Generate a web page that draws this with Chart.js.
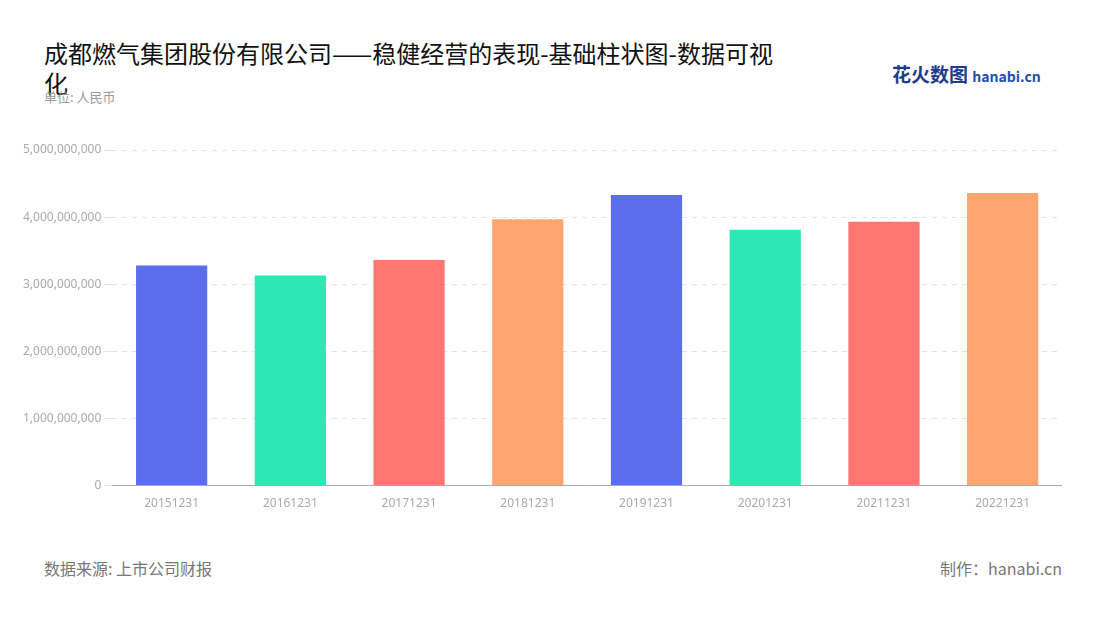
<!DOCTYPE html>
<html><head><meta charset="utf-8">
<script src="https://cdn.jsdelivr.net/npm/chart.js@4/dist/chart.umd.min.js"></script>
<style>
body{margin:0;width:1100px;height:620px;background:#fff;font-family:"Noto Sans CJK SC","Noto Sans",sans-serif;position:relative;overflow:hidden}
#title{position:absolute;left:44px;top:38px;width:740px;font-size:24px;line-height:30px;color:#111}
#unit{position:absolute;left:44px;top:87px;font-size:13px;color:#999}
#logo{position:absolute;left:892px;top:60px;font-size:19px;font-weight:bold;color:#1f3c8c}
#logo span{font-size:14px;color:#2350b0}
#src{position:absolute;left:44px;top:556px;font-size:16px;color:#777}
#made{position:absolute;right:38px;top:556px;font-size:16px;color:#777}
#wrap{position:absolute;left:0;top:138px;width:1062px;height:384px}
</style></head><body>
<div id="title">成都燃气集团股份有限公司——稳健经营的表现-基础柱状图-数据可视化</div>
<div id="unit">单位: 人民币</div>
<div id="logo">花火数图 <span>hanabi.cn</span></div>
<div id="src">数据来源: 上市公司财报</div>
<div id="made">制作：hanabi.cn</div>
<div id="wrap"><canvas id="c"></canvas></div>
<script>
const years = ['20151231','20161231','20171231','20181231','20191231','20201231','20211231','20221231'];
const values = [3280000000,3130000000,3360000000,3970000000,4330000000,3810000000,3930000000,4360000000];
const colors = ['#5B6FEE','#2DE8B4','#FF7770','#FFA571','#5B6FEE','#2DE8B4','#FF7770','#FFA571'];

new Chart(document.getElementById('c'), {
    type: 'bar',
    data: {
        labels: years,
        datasets: [{ data: values, backgroundColor: colors, categoryPercentage: 0.6, barPercentage: 1 }]
    },
    options: {
        responsive: true,
        maintainAspectRatio: false,
        animation: false,
        plugins: { legend: { display: false }, tooltip: { enabled: false } },
        layout: { padding: { top: 12, bottom: 8, left: 20 } },
        scales: {
            x: {
                grid: { display: false },
                border: { color: '#aaa' },
                ticks: { color: '#aaa', font: { size: 12, family: 'Noto Sans' } }
            },
            y: {
                min: 0, max: 5000000000,
                ticks: { stepSize: 1000000000, color: '#aaa', font: { size: 12, family: 'Noto Sans' },
                    callback: v => v.toLocaleString('en-US') },
                grid: { color: '#e3e3e3' },
                border: { display: false, dash: [5, 5] }
            }
        }
    }
});
</script>
</body></html>
